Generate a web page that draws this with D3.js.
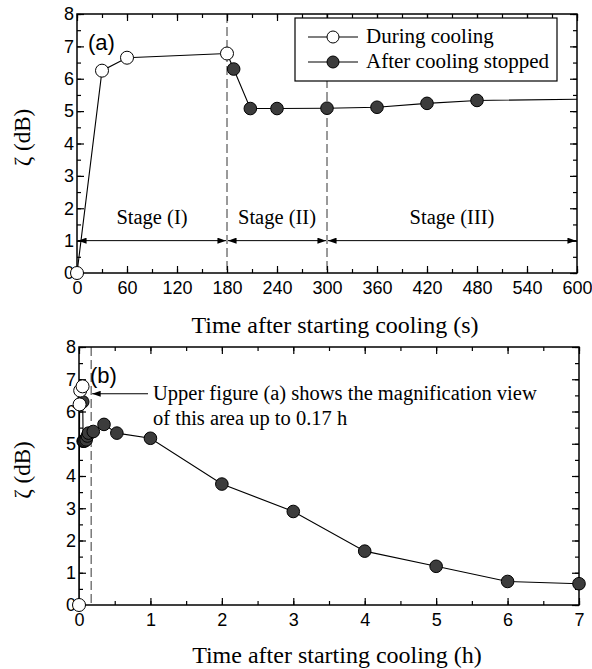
<!DOCTYPE html>
<html lang="en">
  <head>
    <meta charset="UTF-8" />
    <script src="https://d3js.org/d3.v7.min.js"></script>
    <style>
      body { margin: 0; background: #fff; }
      .tick text { font-family: "Liberation Sans", Arial, sans-serif; font-size: 18px; fill: #000; }
      .serif { font-family: "Liberation Serif", "Times New Roman", serif; fill: #000; }
    </style>
    <title>Cooling</title>
  </head>
  <body>
    <div id="chart"></div>
    <script>
      // ---- data: panel (a), seconds ----
      var duringS = [0, 30, 60, 180];
      var duringS_z = [0, 6.25, 6.65, 6.78];
      var afterS = [180, 188, 208, 240, 300, 360, 420, 480, 720];
      var afterS_z = [6.78, 6.3, 5.08, 5.08, 5.09, 5.12, 5.24, 5.33, 5.4];
      var ticksS = [0, 60, 120, 180, 240, 300, 360, 420, 480, 540, 600];
      var stageBounds = [0, 180, 300, 600];
      var stageNames = ["Stage (I)", "Stage (II)", "Stage (III)"];

      // ---- data: panel (b), hours ----
      var duringH = [0, 0.0083, 0.0167, 0.05];
      var duringH_z = [0, 6.22, 6.65, 6.78];
      var afterH = [0.05, 0.052, 0.058, 0.067, 0.083, 0.1, 0.117, 0.133, 0.2, 0.35, 0.53, 1, 2, 3, 4, 5, 6, 7];
      var afterH_z = [6.78, 6.3, 5.08, 5.08, 5.09, 5.12, 5.24, 5.33, 5.38, 5.6, 5.33, 5.17, 3.75, 2.9, 1.67, 1.2, 0.73, 0.66];
      var ticksH = [0, 1, 2, 3, 4, 5, 6, 7];
      var ticksZ = [0, 1, 2, 3, 4, 5, 6, 7, 8];

      var W = 592, H = 669;
      var svg = d3.select("#chart").append("svg").attr("width", W).attr("height", H);

      var defs = svg.append("defs");
      defs.append("marker")
        .attr("id", "arr")
        .attr("viewBox", "0 0 10 7")
        .attr("refX", 10).attr("refY", 3.5)
        .attr("markerWidth", 9).attr("markerHeight", 6)
        .attr("markerUnits", "userSpaceOnUse")
        .attr("orient", "auto-start-reverse")
        .append("path").attr("d", "M0,0L10,3.5L0,7Z").attr("fill", "#000");

      var fmt = d3.format("d");

      function panel(o) {
        var x = d3.scaleLinear().domain(o.xd).range([o.left, o.right]);
        var y = d3.scaleLinear().domain([0, 8]).range([o.bottom, o.top]);
        var g = svg.append("g");
        var clipId = "clip" + o.name;
        defs.append("clipPath").attr("id", clipId)
          .append("rect").attr("x", o.left).attr("y", o.top - 8)
          .attr("width", o.right - o.left).attr("height", o.bottom - o.top + 16);

        var minorX = d3.range(o.xd[0], o.xd[1] + 1e-9, o.minor);
        var minorZ = d3.range(0, 8.01, 0.5);

        function ax(gen, tr, vals, size, lab, pad) {
          var a = gen.tickValues(vals).tickSize(-size).tickPadding(pad)
            .tickFormat(lab ? fmt : "");
          var s = g.append("g").attr("transform", tr).call(a);
          s.select(".domain").remove();
          s.selectAll(".tick line").attr("stroke", "#000").attr("stroke-width", 1.2);
          return s;
        }
        ax(d3.axisBottom(x), `translate(0,${o.bottom})`, minorX, 4, false, 0);
        ax(d3.axisBottom(x), `translate(0,${o.bottom})`, o.ticks, 7, true, 8);
        ax(d3.axisTop(x), `translate(0,${o.top})`, minorX, 4, false, 0);
        ax(d3.axisTop(x), `translate(0,${o.top})`, o.ticks, 7, false, 0);
        ax(d3.axisLeft(y), `translate(${o.left},0)`, minorZ, 4, false, 0);
        ax(d3.axisLeft(y), `translate(${o.left},0)`, ticksZ, 7, true, 3);
        ax(d3.axisRight(y), `translate(${o.right},0)`, minorZ, 4, false, 0);
        ax(d3.axisRight(y), `translate(${o.right},0)`, ticksZ, 7, false, 0);

        // guide lines (dashed)
        o.vlines.forEach(function (v) {
          g.append("line")
            .attr("x1", x(v)).attr("x2", x(v))
            .attr("y1", o.top).attr("y2", o.bottom)
            .attr("stroke", "#000").attr("stroke-width", 0.8)
            .attr("stroke-dasharray", "9,4");
        });

        var line = d3.line().x(function (d) { return x(d[0]); }).y(function (d) { return y(d[1]); });
        var during = o.dx.map(function (v, i) { return [v, o.dz[i]]; });
        var after = o.ax.map(function (v, i) { return [v, o.az[i]]; });
        var data = g.append("g").attr("clip-path", `url(#${clipId})`);
        data.append("path").attr("d", line(during)).attr("fill", "none").attr("stroke", "#000").attr("stroke-width", 1.1);
        data.append("path").attr("d", line(after)).attr("fill", "none").attr("stroke", "#000").attr("stroke-width", 1.1);

        // frame
        g.append("rect")
          .attr("x", o.left).attr("y", o.top)
          .attr("width", o.right - o.left).attr("height", o.bottom - o.top)
          .attr("fill", "none").attr("stroke", "#000").attr("stroke-width", 1.5);

        var pts = svg.append("g");
        pts.selectAll(".f").data(after.slice(1).filter(function (d) { return d[0] <= o.xd[1]; }))
          .enter().append("circle")
          .attr("cx", function (d) { return x(d[0]); })
          .attr("cy", function (d) { return y(d[1]); })
          .attr("r", 6.3).attr("fill", "#3c3c3c").attr("stroke", "#000").attr("stroke-width", 1);
        pts.selectAll(".o").data(during)
          .enter().append("circle")
          .attr("cx", function (d) { return x(d[0]); })
          .attr("cy", function (d) { return y(d[1]); })
          .attr("r", 6.5).attr("fill", "#fff").attr("stroke", "#000").attr("stroke-width", 1);

        // titles
        svg.append("text").attr("class", "serif")
          .attr("x", (o.left + o.right) / 2 + 8).attr("y", o.titleY)
          .attr("text-anchor", "middle").style("font-size", "24px")
          .text(o.title);
        svg.append("text").attr("class", "serif")
          .attr("transform", `translate(30,${(o.top + o.bottom) / 2 - 6}) rotate(-90)`)
          .attr("text-anchor", "middle").style("font-size", "23px")
          .text("ζ (dB)");
        svg.append("text")
          .attr("x", o.left + 11).attr("y", o.top + 36)
          .style("font-family", "Liberation Sans, Arial, sans-serif").style("font-size", "22px")
          .text(o.tag);
        return { x: x, y: y, g: g };
      }

      var a = panel({
        name: "a", xd: [0, 600], minor: 30, ticks: ticksS,
        left: 77, right: 577, top: 14, bottom: 273,
        dx: duringS, dz: duringS_z, ax: afterS, az: afterS_z,
        vlines: [180, 300], title: "Time after starting cooling (s)", titleY: 333, tag: "(a)"
      });

      // stage arrows
      for (var i = 0; i < 3; i++) {
        a.g.append("line")
          .attr("x1", a.x(stageBounds[i]) + 1).attr("x2", a.x(stageBounds[i + 1]) - 1)
          .attr("y1", a.y(1)).attr("y2", a.y(1))
          .attr("stroke", "#000").attr("stroke-width", 1)
          .attr("marker-start", "url(#arr)").attr("marker-end", "url(#arr)");
        a.g.append("text").attr("class", "serif")
          .attr("x", a.x((stageBounds[i] + stageBounds[i + 1]) / 2))
          .attr("y", a.y(1) - 17)
          .attr("text-anchor", "middle").style("font-size", "20.5px")
          .text(stageNames[i]);
      }

      // legend
      var leg = svg.append("g").attr("transform", "translate(295,18)");
      leg.append("rect").attr("width", 262).attr("height", 63)
        .attr("fill", "#fff").attr("stroke", "#000").attr("stroke-width", 1.2);
      [["During cooling", "#fff"], ["After cooling stopped", "#3c3c3c"]].forEach(function (e, i) {
        var yy = 19 + i * 25;
        leg.append("line").attr("x1", 13).attr("x2", 63).attr("y1", yy).attr("y2", yy)
          .attr("stroke", "#000").attr("stroke-width", 1.1);
        leg.append("circle").attr("cx", 38).attr("cy", yy).attr("r", 6)
          .attr("fill", e[1]).attr("stroke", "#000");
        leg.append("text").attr("class", "serif").attr("x", 71).attr("y", yy + 6)
          .style("font-size", "21px").text(e[0]);
      });

      var b = panel({
        name: "b", xd: [0, 7], minor: 0.5, ticks: ticksH,
        left: 79, right: 579, top: 347, bottom: 605,
        dx: duringH, dz: duringH_z, ax: afterH, az: afterH_z,
        vlines: [0.17], title: "Time after starting cooling (h)", titleY: 663, tag: "(b)"
      });

      // annotation in (b)
      b.g.append("line")
        .attr("x1", 148).attr("x2", b.x(0.17) + 1)
        .attr("y1", b.y(6.55)).attr("y2", b.y(6.55))
        .attr("stroke", "#000").attr("stroke-width", 1)
        .attr("marker-end", "url(#arr)");
      var note = b.g.append("text").attr("class", "serif").style("font-size", "20.5px");
      note.append("tspan").attr("x", 153).attr("y", b.y(6.55) + 6).text("Upper figure (a) shows the magnification view");
      note.append("tspan").attr("x", 153).attr("y", b.y(6.55) + 31).text("of this area up to 0.17 h");
    </script>
  </body>
</html>
